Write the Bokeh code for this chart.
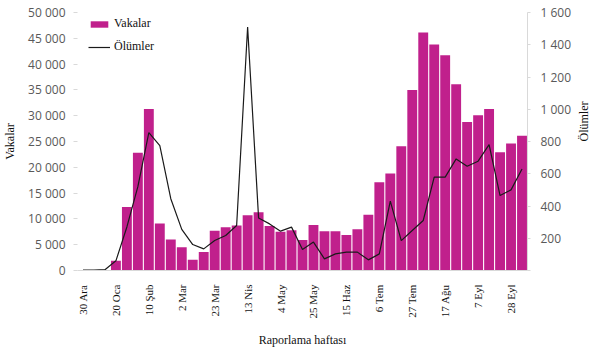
from math import pi
from bokeh.plotting import figure
from bokeh.models import (Range1d, LinearAxis, FixedTicker, CustomJSTickFormatter,
                          Legend, LegendItem, ColumnDataSource)
from bokeh.embed import file_html
from bokeh.resources import INLINE

weeks = ["30 Ara", "6 Oca", "13 Oca", "20 Oca", "27 Oca", "3 Şub", "10 Şub", "17 Şub",
         "24 Şub", "2 Mar", "9 Mar", "16 Mar", "23 Mar", "30 Mar", "6 Nis", "13 Nis",
         "20 Nis", "27 Nis", "4 May", "11 May", "18 May", "25 May", "1 Haz", "8 Haz",
         "15 Haz", "22 Haz", "29 Haz", "6 Tem", "13 Tem", "20 Tem", "27 Tem", "3 Ağu",
         "10 Ağu", "17 Ağu", "24 Ağu", "31 Ağu", "7 Eyl", "14 Eyl", "21 Eyl", "28 Eyl",
         "5 Eki"]
cases = [0, 0, 0, 1900, 12300, 22800, 31300, 9100, 6000, 4500, 2100, 3600, 7700, 8400,
         8700, 10700, 11300, 8600, 7500, 7800, 5900, 8800, 7600, 7600, 6900, 8000, 10800,
         17100, 18800, 24100, 35000, 46100, 43800, 41700, 36100, 28800, 30100, 31300,
         22900, 24600, 26100]
deaths = [3, 3, 5, 60, 270, 520, 855, 775, 445, 255, 161, 134, 186, 217, 279, 1510, 325,
          289, 244, 269, 130, 176, 72, 103, 114, 114, 66, 103, 430, 185, 248, 310, 579,
          579, 692, 647, 678, 781, 465, 500, 630]
label_every = 3

x = list(range(len(weeks)))
src = ColumnDataSource(dict(x=x, cases=cases, deaths=deaths))

p = figure(width=605, height=350, output_backend="svg", toolbar_location=None,
           x_range=Range1d(-0.5, len(weeks) - 0.5), y_range=Range1d(0, 50000),
           min_border_left=76, min_border_right=78, min_border_top=12,
           min_border_bottom=80)
p.extra_y_ranges = {"deaths": Range1d(0, 1600)}
p.outline_line_color = None
p.xgrid.visible = False
p.ygrid.visible = False

bars = p.vbar(x="x", top="cases", width=0.9, source=src, fill_color="#C0208C",
              line_color=None)
line = p.line(x="x", y="deaths", source=src, y_range_name="deaths",
              line_color="#1a1a1a", line_width=1.2)

fmt_left = CustomJSTickFormatter(code="""
return String(tick).replace(/\\B(?=(\\d{3})+(?!\\d))/g, '\\u00a0');
""")
fmt_right = CustomJSTickFormatter(code="""
if (tick == 0) { return ''; }
return String(tick).replace(/\\B(?=(\\d{3})+(?!\\d))/g, '\\u00a0');
""")

# x axis
xa = p.xaxis[0]
xa.ticker = FixedTicker(ticks=x[::label_every])
xa.major_label_overrides = {i: weeks[i] for i in x[::label_every]}
xa.major_label_orientation = pi / 2
xa.major_label_text_font = "Liberation Serif"
xa.major_label_text_font_size = "11px"
xa.major_label_text_color = "#111111"
xa.major_tick_line_color = None
xa.minor_tick_line_color = None
xa.axis_line_color = "#d9d9d9"
xa.major_label_standoff = 8
xa.axis_label = "Raporlama haftası"
xa.axis_label_text_font = "Liberation Serif"
xa.axis_label_text_font_size = "12px"
xa.axis_label_text_font_style = "normal"
xa.axis_label_text_color = "#111111"
xa.axis_label_standoff = 12

# left axis
ya = p.yaxis[0]
ya.ticker = FixedTicker(ticks=list(range(0, 50001, 5000)))
ya.formatter = fmt_left
ya.axis_line_color = None
ya.major_tick_line_color = "#d9d9d9"
ya.major_tick_in = 0
ya.major_tick_out = 4
ya.minor_tick_line_color = None
ya.major_label_text_font = "Open Sans"
ya.major_label_text_font_size = "12px"
ya.major_label_text_color = "#595959"
ya.major_label_standoff = 8
ya.axis_label = "Vakalar"
ya.axis_label_text_font = "Liberation Serif"
ya.axis_label_text_font_size = "12px"
ya.axis_label_text_font_style = "normal"
ya.axis_label_text_color = "#111111"
ya.axis_label_standoff = 8

# right axis
ra = LinearAxis(y_range_name="deaths", ticker=FixedTicker(ticks=list(range(0, 1601, 200))),
                formatter=fmt_right)
ra.axis_line_color = "#d9d9d9"
ra.major_tick_line_color = "#d9d9d9"
ra.major_tick_in = 0
ra.major_tick_out = 3
ra.minor_tick_line_color = None
ra.major_label_text_font = "Open Sans"
ra.major_label_text_font_size = "12px"
ra.major_label_text_color = "#595959"
ra.major_label_standoff = 10
ra.axis_label = "Ölümler"
ra.axis_label_orientation = pi / 2
ra.axis_label_text_font = "Liberation Serif"
ra.axis_label_text_font_size = "12px"
ra.axis_label_text_font_style = "normal"
ra.axis_label_text_color = "#111111"
ra.axis_label_standoff = 10
p.add_layout(ra, "right")

legend = Legend(items=[LegendItem(label="Vakalar", renderers=[bars]),
                       LegendItem(label="Ölümler", renderers=[line])],
                location=(11, 216), orientation="vertical")
legend.glyph_width = 22
legend.glyph_height = 8
legend.label_height = 14
legend.spacing = 8
legend.padding = 0
legend.margin = 0
legend.label_standoff = 4
legend.label_text_font = "Liberation Serif"
legend.label_text_font_size = "12px"
legend.label_text_color = "#111111"
legend.border_line_color = None
legend.background_fill_alpha = 0
p.add_layout(legend)

open("out.html", "w").write(file_html(p, INLINE))
